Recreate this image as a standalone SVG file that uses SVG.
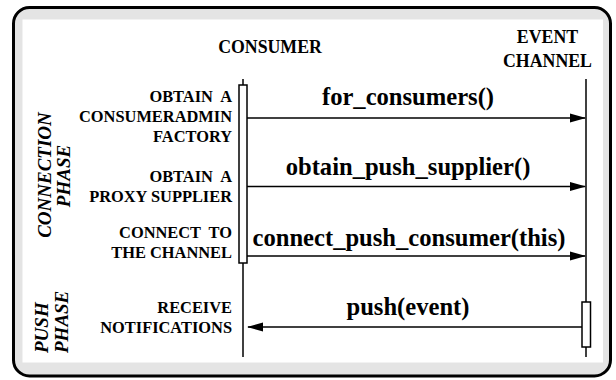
<svg xmlns="http://www.w3.org/2000/svg" width="616" height="380" viewBox="0 0 616 380">
<defs>
<style>
text{font-family:'Liberation Serif','Times New Roman',serif;font-weight:bold;fill:#000}
.hdr{font-size:17.8px;text-anchor:middle}
.side{font-size:16.4px;text-anchor:end}
.msg{font-size:24.6px;text-anchor:middle}
.phase{font-size:19px;font-style:italic}
.mid{text-anchor:middle}
.life{stroke:#000;stroke-width:1.5;fill:none}
.act{stroke:#000;stroke-width:1.5;fill:#fff}
.arr{stroke:#000;stroke-width:1.5;fill:none}
</style>
<marker id="ah" markerWidth="16" markerHeight="10" refX="15" refY="5" orient="auto" markerUnits="userSpaceOnUse">
<path d="M0,0.5 L16,5 L0,9.5 Z" fill="#000"/>
</marker>
</defs>
<rect x="13.5" y="7.5" width="597" height="368.5" rx="16" ry="16" fill="#e4e4e4" stroke="#000" stroke-width="3"/>
<rect x="22.5" y="19.5" width="580.5" height="343" fill="#fff"/>

<g id="consumer">
<text class="hdr" x="270" y="53">CONSUMER</text>
<line class="life" x1="243" y1="79" x2="243" y2="357"/>
<rect class="act" x="239" y="85" width="8" height="178"/>
</g>

<g id="event-channel">
<text class="hdr" x="547.5" y="43">EVENT</text>
<text class="hdr" x="547.5" y="67">CHANNEL</text>
<line class="life" x1="586" y1="79" x2="586" y2="357"/>
<rect class="act" x="582" y="302" width="8.5" height="45"/>
</g>

<g id="phase-connection">
<text class="phase mid" transform="translate(51,175) rotate(-90)">CONNECTION</text>
<text class="phase mid" transform="translate(70,176) rotate(-90)">PHASE</text>
</g>
<g id="phase-push">
<text class="phase" transform="translate(47.5,353) rotate(-90)">PUSH</text>
<text class="phase" transform="translate(67.5,353) rotate(-90)">PHASE</text>
</g>

<g id="step-admin">
<text class="side" x="232" y="101.5" xml:space="preserve">OBTAIN  A</text>
<text class="side" x="232" y="121.5">CONSUMERADMIN</text>
<text class="side" x="232" y="141.5">FACTORY</text>
</g>
<g id="step-proxy">
<text class="side" x="232" y="181.5" xml:space="preserve">OBTAIN  A</text>
<text class="side" x="232" y="201.5">PROXY SUPPLIER</text>
</g>
<g id="step-connect">
<text class="side" x="232" y="238" xml:space="preserve">CONNECT  TO</text>
<text class="side" x="232" y="258">THE CHANNEL</text>
</g>
<g id="step-receive">
<text class="side" x="232" y="313">RECEIVE</text>
<text class="side" x="232" y="333">NOTIFICATIONS</text>
</g>

<g id="connectors">
<line class="arr" x1="247" y1="118" x2="585" y2="118" marker-end="url(#ah)"/>
<text class="msg" x="408" y="105">for_consumers()</text>
<line class="arr" x1="247" y1="186.5" x2="585" y2="186.5" marker-end="url(#ah)"/>
<text class="msg" x="408" y="175">obtain_push_supplier()</text>
<line class="arr" x1="247" y1="256" x2="585" y2="256" marker-end="url(#ah)"/>
<text class="msg" x="409" y="246">connect_push_consumer(this)</text>
<line class="arr" x1="582" y1="327" x2="248" y2="327" marker-end="url(#ah)"/>
<text class="msg" x="408" y="315">push(event)</text>
</g>
</svg>
